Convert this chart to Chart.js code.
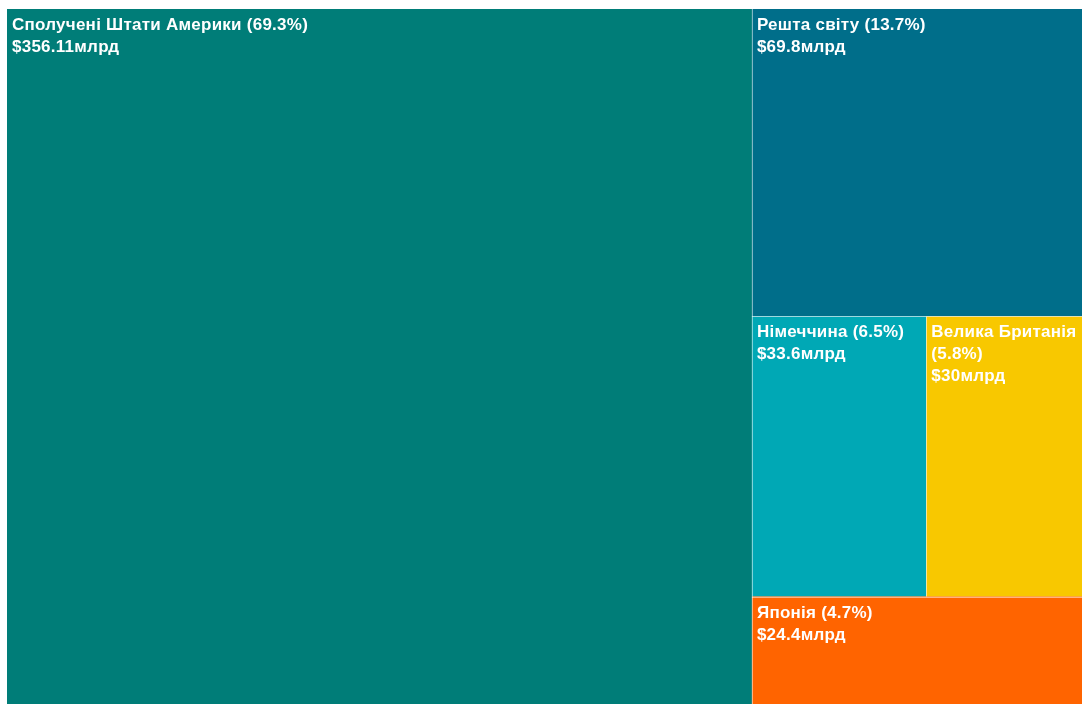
<!DOCTYPE html>
<html><head><meta charset="utf-8">
<script src="https://cdn.jsdelivr.net/npm/chart.js@4.4.1/dist/chart.umd.min.js"></script>
<style>html,body{margin:0;padding:0;background:#fff;}#wrap{width:1082px;height:704px;}</style>
</head><body><div id="wrap"><canvas id="c" width="1082" height="704"></canvas></div>
<script>
const categories = ["Сполучені Штати Америки", "Решта світу", "Німеччина", "Велика Британія", "Японія"];
const values = [356.11, 69.8, 33.6, 30, 24.4];
const percents = ["69.3", "13.7", "6.5", "5.8", "4.7"];
const colors = ["#007D78", "#006E8A", "#00A8B5", "#F8C800", "#FF6400"];
const valuePrefix = "$";
const valueSuffix = "млрд";

function worst(row, s) {
  let sum = 0, mx = -Infinity, mn = Infinity;
  row.forEach(a => { sum += a; mx = Math.max(mx, a); mn = Math.min(mn, a); });
  return Math.max((s * s * mx) / (sum * sum), (sum * sum) / (s * s * mn));
}

function squarify(vals, x0, y0, x1, y1) {
  const total = vals.reduce((a, b) => a + b, 0);
  const rect = { x: x0, y: y0, w: x1 - x0, h: y1 - y0 };
  const k = rect.w * rect.h / total;
  const areas = vals.map(v => v * k);
  const out = [];
  let i = 0;
  while (i < areas.length) {
    const s = Math.min(rect.w, rect.h);
    const row = [areas[i]];
    let j = i + 1;
    while (j < areas.length && worst(row.concat([areas[j]]), s) <= worst(row, s)) { row.push(areas[j]); j++; }
    const rs = row.reduce((a, b) => a + b, 0);
    if (rect.w >= rect.h) {
      const t = rs / rect.h; let yy = rect.y;
      row.forEach(a => { const hh = a / t; out.push({ x: rect.x, y: yy, w: t, h: hh }); yy += hh; });
      rect.x += t; rect.w -= t;
    } else {
      const t = rs / rect.w; let xx = rect.x;
      row.forEach(a => { const ww = a / t; out.push({ x: xx, y: rect.y, w: ww, h: t }); xx += ww; });
      rect.y += t; rect.h -= t;
    }
    i = j;
  }
  return out;
}

function wrap(ctx, text, maxW) {
  const words = text.split(" ");
  const lines = []; let cur = "";
  words.forEach(w => {
    const test = cur ? cur + " " + w : w;
    if (ctx.measureText(test).width > maxW && cur) { lines.push(cur); cur = w; } else cur = test;
  });
  if (cur) lines.push(cur);
  return lines;
}

const treemapPlugin = {
  id: "treemapCells",
  afterDatasetsDraw(chart) {
    const ctx = chart.ctx, xs = chart.scales.x, ys = chart.scales.y;
    const L = xs.getPixelForValue(0), T = ys.getPixelForValue(0);
    const cells = squarify(values, L, T, xs.getPixelForValue(1), ys.getPixelForValue(1));
    ctx.save();
    cells.forEach((c, i) => {
      ctx.fillStyle = colors[i];
      ctx.fillRect(c.x, c.y, c.w, c.h);
    });
    ctx.strokeStyle = "rgba(255,255,255,0.5)";
    ctx.lineWidth = 1;
    cells.forEach(c => {
      ctx.beginPath();
      if (c.x > L + 1) { const x = Math.round(c.x) + 0.5; ctx.moveTo(x, c.y); ctx.lineTo(x, c.y + c.h); }
      if (c.y > T + 1) { const y = Math.round(c.y) + 0.5; ctx.moveTo(c.x, y); ctx.lineTo(c.x + c.w, y); }
      ctx.stroke();
    });
    ctx.font = "bold 17px 'Liberation Sans', Arial, sans-serif";
    try { ctx.letterSpacing = "0.25px"; } catch (e) {}
    ctx.fillStyle = "#ffffff";
    ctx.textBaseline = "alphabetic";
    ctx.textAlign = "left";
    cells.forEach((c, i) => {
      const lines = wrap(ctx, categories[i] + " (" + percents[i] + "%)", c.w - 7);
      lines.push(valuePrefix + values[i] + valueSuffix);
      lines.forEach((ln, k) => ctx.fillText(ln, c.x + 5, c.y + 21 + k * 22));
    });
    ctx.restore();
  }
};

new Chart(document.getElementById("c"), {
  type: "scatter",
  data: { datasets: [{ data: [] }] },
  options: {
    responsive: false,
    animation: false,
    devicePixelRatio: 1,
    layout: { padding: { left: 7, top: 9, right: 0, bottom: 0 } },
    plugins: { legend: { display: false }, tooltip: { enabled: false } },
    scales: {
      x: { type: "linear", min: 0, max: 1, display: false },
      y: { type: "linear", min: 0, max: 1, reverse: true, display: false }
    }
  },
  plugins: [treemapPlugin]
});
</script>
</body></html>
